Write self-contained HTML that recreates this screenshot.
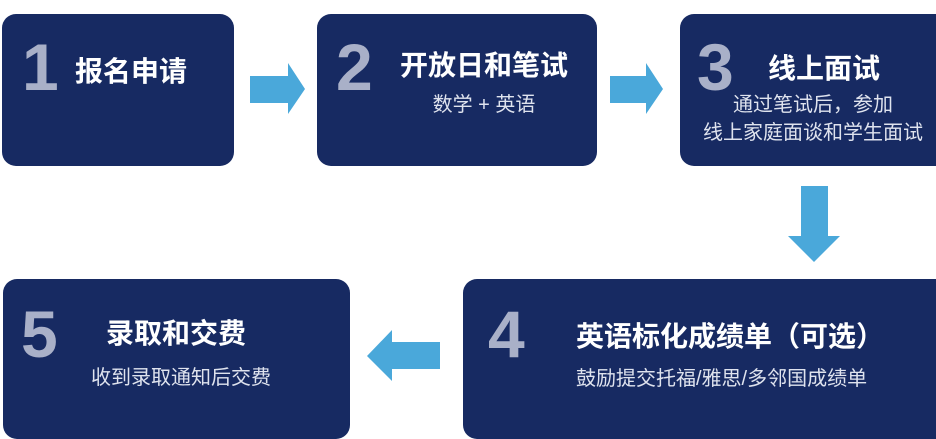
<!DOCTYPE html>
<html><head><meta charset="utf-8"><style>
body{margin:0;width:936px;height:431px;background:#fff;position:relative;overflow:hidden;font-family:"Liberation Sans","Noto Sans CJK SC",sans-serif}
.b{position:absolute;background:#172a62;border-radius:14px}
.n{position:absolute;color:#a9b0c8;font-weight:bold;font-size:66px;line-height:1;font-family:"Liberation Sans",sans-serif}
.t{position:absolute;color:#fff;font-weight:bold;font-size:28px;line-height:1;white-space:nowrap}
.s{position:absolute;color:#dfe3ee;font-size:20px;line-height:28px;white-space:nowrap;text-align:center}
svg{position:absolute;left:0;top:0}
</style></head><body>
<div class="b" style="left:2px;top:14px;width:232px;height:152px"></div>
<div class="b" style="left:317px;top:14px;width:280px;height:152px"></div>
<div class="b" style="left:680px;top:14px;width:270px;height:152px"></div>
<div class="b" style="left:463px;top:279px;width:490px;height:160px"></div>
<div class="b" style="left:3px;top:279px;width:347px;height:160px"></div>

<div class="n" style="left:22px;top:34px">1</div>
<div class="t" style="left:75px;top:58px">报名申请</div>

<div class="n" style="left:336px;top:34px">2</div>
<div class="t" style="left:400px;top:52px">开放日和笔试</div>
<div class="s" style="left:400px;top:91px;width:168px">数学 + 英语</div>

<div class="n" style="left:697px;top:34px">3</div>
<div class="t" style="left:768px;top:55px">线上面试</div>
<div class="s" style="left:690px;top:91px;width:246px">通过笔试后，参加<br>线上家庭面谈和学生面试</div>

<div class="n" style="left:488px;top:301px">4</div>
<div class="t" style="left:576px;top:323px">英语标化成绩单（可选）</div>
<div class="s" style="left:576px;top:365px">鼓励提交托福/雅思/多邻国成绩单</div>

<div class="n" style="left:21px;top:301px">5</div>
<div class="t" style="left:106px;top:320px">录取和交费</div>
<div class="s" style="left:60px;top:364px;width:242px">收到录取通知后交费</div>

<svg width="936" height="431">
<polygon fill="#4aa8da" points="250,76 288,76 288,63 305,89 288,114 288,103 250,103"/>
<polygon fill="#4aa8da" points="610,76 646,76 646,63 663,89 646,114 646,103 610,103"/>
<polygon fill="#4aa8da" points="801,186 828,186 828,236 840,236 814,262 788,236 801,236"/>
<polygon fill="#4aa8da" points="440,342 392,342 392,330 367,356 392,381 392,369 440,369"/>
</svg>
</body></html>
